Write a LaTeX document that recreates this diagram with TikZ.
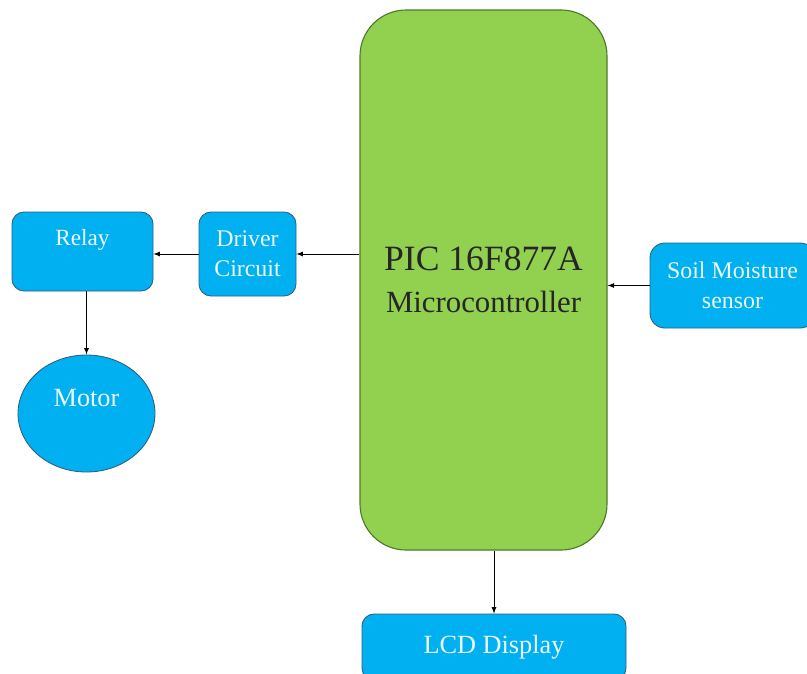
\documentclass[tikz,border=0pt]{standalone}
\usepackage{fontspec}
\setmainfont{Liberation Serif}[Ligatures=TeX]
\newfontfamily\serifnames{Liberation Serif}
\usetikzlibrary{shapes.geometric}
\definecolor{boxblue}{HTML}{00B0F0}
\definecolor{blueline}{HTML}{2E5E7E}
\definecolor{mcugreen}{HTML}{92D050}
\definecolor{greenline}{HTML}{4F7A28}
\definecolor{paletext}{HTML}{EAF9FF}
\newcommand{\pxu}{0.025cm}
\begin{document}
\begin{tikzpicture}[x=0.025cm, y=-0.025cm, >=latex, line join=round,
		blk/.style={draw=blueline, fill=boxblue, rounded corners=0.3cm, line width=0.6pt, text=paletext, align=center, font=\serifnames\fontsize{17}{21.5}\selectfont},
		mcu/.style={draw=greenline, fill=mcugreen, rounded corners=1.15cm, line width=0.8pt, align=center, text=black!85, font=\serifnames\fontsize{21.9}{30}\selectfont},
		link/.style={->, line width=0.6pt}]
		\useasboundingbox (0,0) rectangle (807,673);
		\clip (0,0) rectangle (807,673);
		% Microcontroller block
		\node[mcu, minimum width=247*\pxu, minimum height=540*\pxu] (mcu) at (483.5,280) {{\fontsize{25.3}{30}\selectfont PIC 16F877A}\\Microcontroller};
		% Blocks round it
		\node[blk, minimum width=141*\pxu, minimum height=79*\pxu, label={[yshift=0.29cm, text=paletext, font=\serifnames\fontsize{16.5}{20}\selectfont]center:Relay}] (relay) at (82.5,251.5) {};
		\node[blk, minimum width=97*\pxu, minimum height=84*\pxu] (drv) at (247.5,254) {Driver\\Circuit};
		\node[blk, ellipse, inner sep=0pt, minimum width=137*\pxu, minimum height=117*\pxu, label={[yshift=0.375cm, text=paletext, font=\serifnames\fontsize{18.7}{22}\selectfont]center:Motor}] (motor) at (86.5,413.5) {};
		\node[blk, rounded corners=0.37cm, minimum width=165*\pxu, minimum height=85*\pxu] (soil) at (732.5,285.5) {Soil Moisture\\sensor};
		\node[blk, minimum width=264*\pxu, minimum height=66*\pxu, font=\serifnames\fontsize{18.7}{22}\selectfont] (lcd) at (494,647) {LCD Display};
		% Connections
		\draw[link] (mcu.west |- drv) -- (drv.east);
		\draw[link] (drv.west) -- (drv.west -| relay.east);
		\draw[link] (relay.south -| motor.north) -- (motor.north);
		\draw[link] (soil.west) -- (soil.west -| mcu.east);
		\draw[link] (mcu.south -| lcd.north) -- (lcd.north);
	\end{tikzpicture}
\end{document}
